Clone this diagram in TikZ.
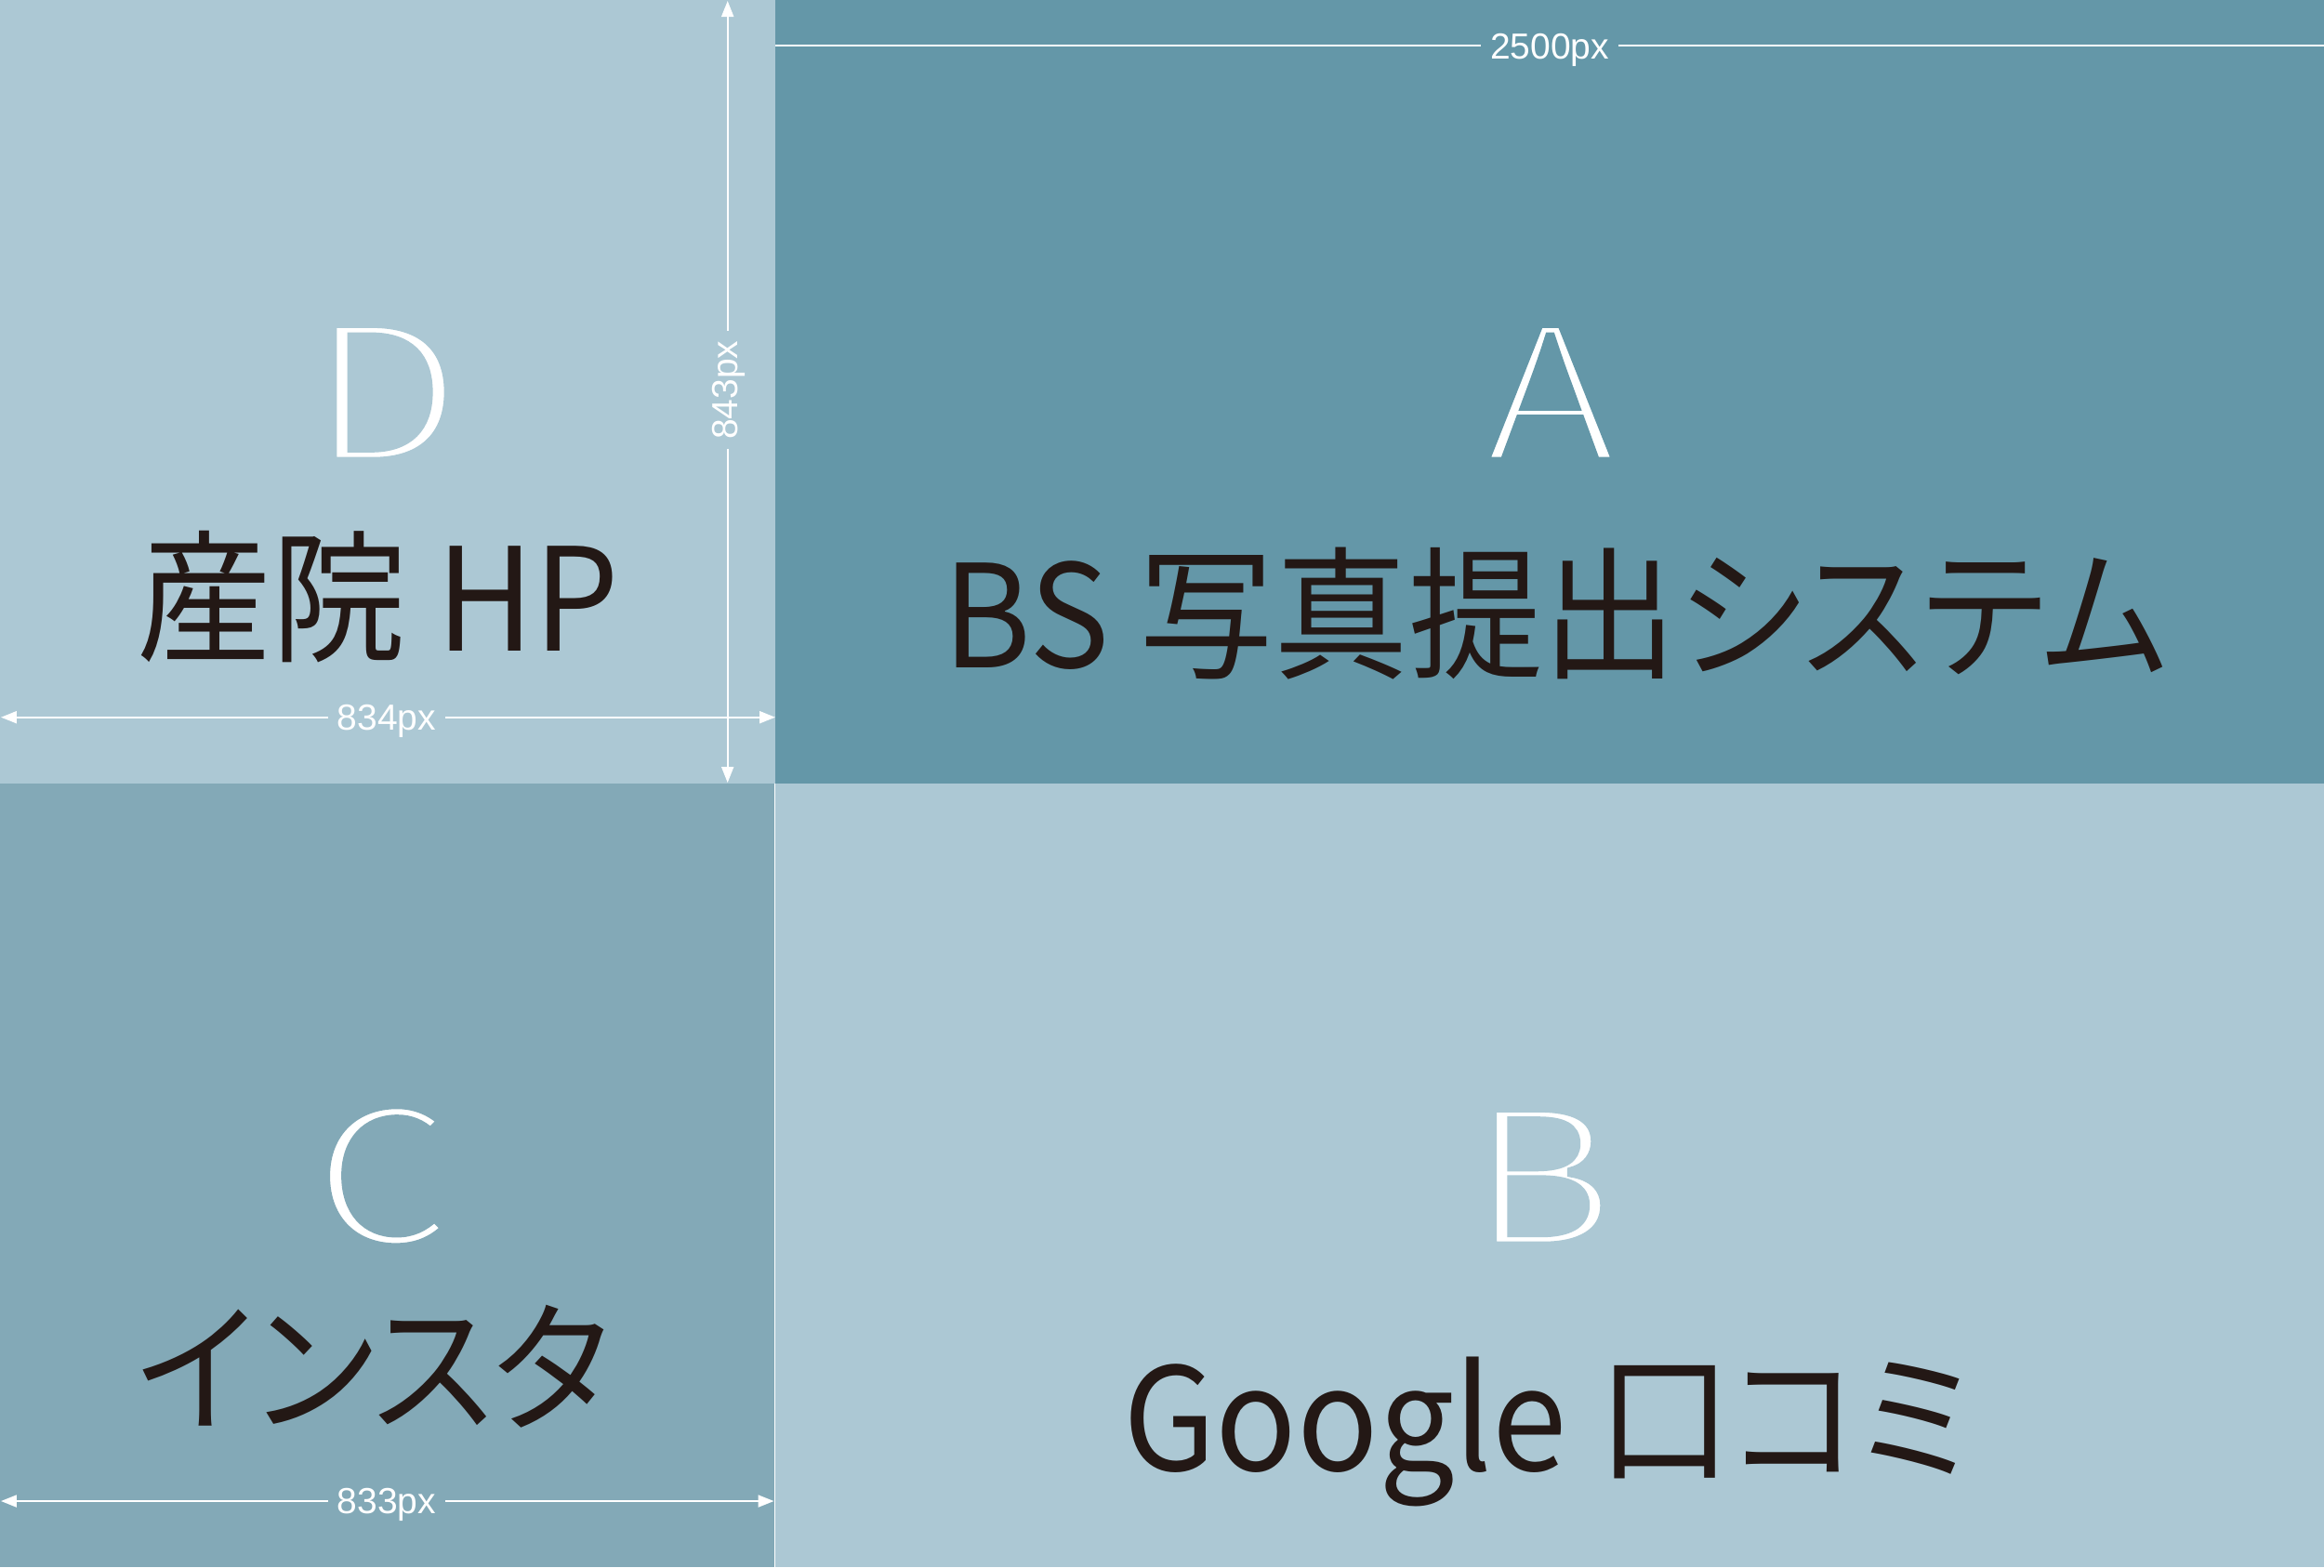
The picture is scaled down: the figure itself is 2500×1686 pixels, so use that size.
\documentclass[tikz,border=0pt]{standalone}
\usepackage{fontspec}
\setmainfont{Noto Sans CJK JP}
\newfontfamily\jpfont{Noto Sans CJK JP}[RawFeature=+palt, FakeStretch=0.94]
\newfontfamily\bigfont{Noto Sans CJK JP}[FakeStretch=1.17]
\newfontfamily\dimfont{Liberation Sans}
\usetikzlibrary{arrows.meta}
\definecolor{lightbg}{RGB}{172,200,212}
\definecolor{darkbg}{RGB}{100,151,168}
\definecolor{midbg}{RGB}{131,169,183}
\definecolor{ink}{RGB}{35,24,21}
\newcommand\thinglyph[2]{\special{pdf:literal direct 2 Tr 3 w #1 RG}#2\special{pdf:literal direct 0 Tr}}
\tikzset{
  bigletter/.style={text=white, font=\bigfont\fontsize{58}{64}\selectfont, anchor=base, inner sep=0pt},
  boxlabel/.style={text=ink, font=\jpfont\fontsize{43.8}{50}\selectfont, anchor=base, inner sep=0pt},
  dimlabel/.style={text=white, font=\dimfont\fontsize{11.1}{13}\selectfont, inner xsep=1mm, inner ysep=0.5mm, anchor=base},
  dimline/.style={draw=white, line width=0.2mm},
  dimarrows/.style={dimline, {Triangle[length=1.7mm,width=1.3mm]}-{Triangle[length=1.7mm,width=1.3mm]}}
}
\begin{document}
\begin{tikzpicture}[x=0.1mm, y=-0.1mm]
\useasboundingbox (0,0) rectangle (2500,1686);
\fill[white] (0,0) rectangle (2500,1686);
% regions
\fill[lightbg] (0,0) rectangle (834,843);
\fill[darkbg] (834,0) rectangle (2500,843);
\fill[midbg] (0,843) rectangle (833,1686);
\fill[lightbg] (834,843) rectangle (2500,1686);
% big letters
\node[bigletter] (letD) at (415,497) {\thinglyph{0.675 0.784 0.831}{D}};
\node[bigletter] (letA) at (1668,497) {\thinglyph{0.392 0.592 0.659}{A}};
\node[bigletter] (letC) at (412,1340) {\thinglyph{0.514 0.663 0.718}{C}};
\node[bigletter] (letB) at (1659,1341) {\thinglyph{0.675 0.784 0.831}{B}};
% labels
\node[boxlabel] (txtD) at (407,700) {産院 HP};
\node[boxlabel] (txtA) at (1673,718) {BS 写真提出システム};
\node[boxlabel] (txtC) at (402,1529) {インスタ};
\node[boxlabel] (txtB) at (1664,1582) {Google 口コミ};
% dimension: 2500px
\coordinate (topL) at (834,49);
\coordinate (topR) at (2500,49);
\draw[dimline] (topL) -- (topR);
\node[dimlabel, fill=darkbg] (dimTop) at (1667,63.3) {2500px};
% dimension: 843px (vertical)
\coordinate (vT) at (782.7,1);
\coordinate (vB) at (782.7,842);
\draw[dimarrows] (vT) -- (vB);
\node[dimlabel, fill=lightbg, rotate=90] (dimV) at (793.3,419.6) {843px};
% dimension: 834px
\coordinate (hL) at (1,771.7);
\coordinate (hR) at (834,771.7);
\draw[dimarrows] (hL) -- (hR);
\node[dimlabel, fill=lightbg] (dimH) at (416,785) {834px};
% dimension: 833px
\coordinate (bL) at (1,1615);
\coordinate (bR) at (832.5,1615);
\draw[dimarrows] (bL) -- (bR);
\node[dimlabel, fill=midbg] (dimB) at (416,1628.3) {833px};
\end{tikzpicture}
\end{document}
